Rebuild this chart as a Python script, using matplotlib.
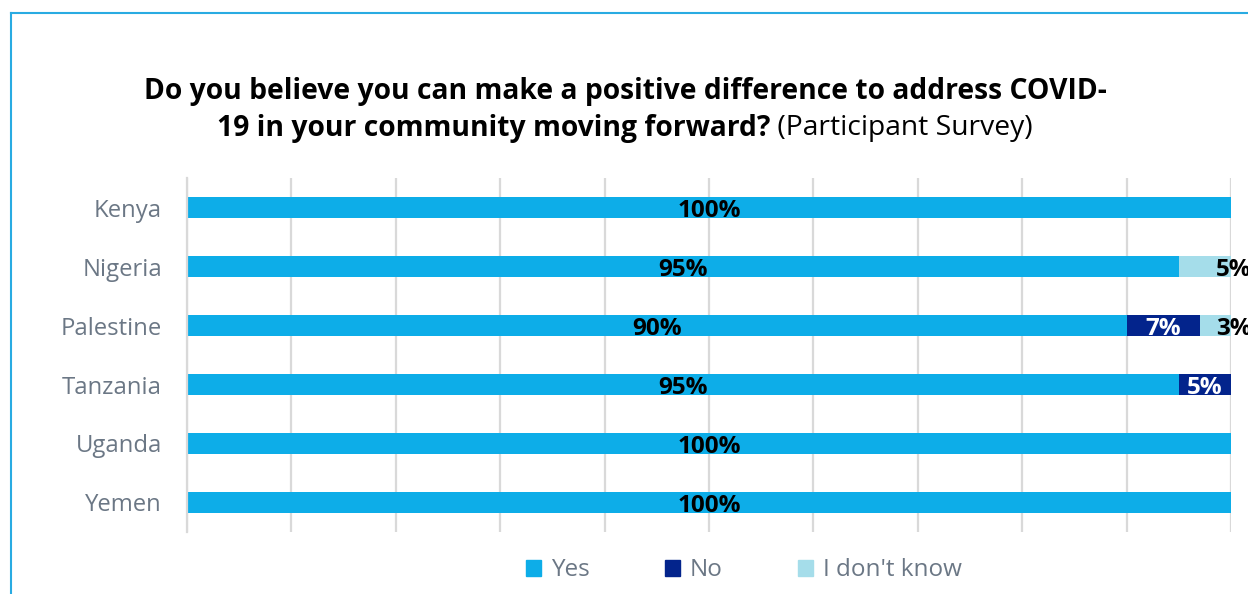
import matplotlib.pyplot as plt
from matplotlib.patches import Patch
from matplotlib.lines import Line2D
import numpy as np

plt.rcParams['font.family'] = ['Open Sans', 'DejaVu Sans']

countries = ['Kenya', 'Nigeria', 'Palestine', 'Tanzania', 'Uganda', 'Yemen']
yes_vals = [100, 95, 90, 95, 100, 100]
no_vals = [0, 0, 7, 5, 0, 0]
dk_vals = [0, 5, 3, 0, 0, 0]

c_yes = '#0DADE8'
c_no = '#03248C'
c_dk = '#A5DDEA'
grey = '#6B7785'


def main():
    fig = plt.figure(figsize=(12.48, 5.94), dpi=100)
    ax = fig.add_axes([0.1498, 0.1044, 0.8366, 0.5959])

    y = np.arange(len(countries))
    h = 0.37
    yes = np.array(yes_vals)
    no = np.array(no_vals)
    dk = np.array(dk_vals)
    ax.barh(y, yes, height=h, color=c_yes, zorder=2)
    ax.barh(y, no, left=yes, height=h, color=c_no, zorder=2)
    ax.barh(y, dk, left=yes + no, height=h, color=c_dk, zorder=2)

    # value labels
    lab_size = 17.5
    for i in range(len(countries)):
        ax.text(yes[i] / 2, i + 0.06, '{}%'.format(yes[i]), ha='center', va='center',
                fontsize=lab_size, fontweight='bold', color='black', zorder=3)
        if no[i] > 0:
            ax.text(yes[i] + no[i] / 2, i + 0.06, '{}%'.format(no[i]), ha='center', va='center',
                    fontsize=lab_size, fontweight='bold', color='white', zorder=3)
        if dk[i] > 0:
            ax.annotate('{}%'.format(dk[i]), xy=(yes[i] + no[i] + dk[i], i + 0.06),
                        xytext=(-11, 0), textcoords='offset points', ha='left', va='center',
                        fontsize=lab_size, fontweight='bold', color='black', zorder=3,
                        annotation_clip=False)

    ax.set_xlim(0, 100)
    ax.set_ylim(len(countries) - 0.5, -0.5)
    ax.set_xticks(np.arange(0, 101, 10))
    ax.set_xticklabels([])
    ax.tick_params(axis='x', length=0)
    ax.tick_params(axis='y', length=0, pad=18, labelsize=17.2, labelcolor=grey)
    ax.set_yticks(y)
    ax.set_yticklabels(countries)
    ax.grid(axis='x', color='#D9D9D9', linewidth=1.6, zorder=0)
    for s in ['top', 'right', 'bottom']:
        ax.spines[s].set_visible(False)
    ax.spines['left'].set_color('#D9D9D9')
    ax.spines['left'].set_linewidth(1.6)

    # title: first line bold, second line bold + regular
    fig.text(0.5015, 0.846, 'Do you believe you can make a positive difference to address COVID-',
             ha='center', va='center', fontsize=20.3, fontweight='bold')
    t1 = fig.text(0.5, 0.784, '19 in your community moving forward?', ha='left', va='center',
                  fontsize=20.3, fontweight='bold')
    t2 = fig.text(0.5, 0.784, ' (Participant Survey)', ha='left', va='center', fontsize=20.3)
    fig.canvas.draw()
    r = fig.canvas.get_renderer()
    w1 = t1.get_window_extent(r).width
    w2 = t2.get_window_extent(r).width
    x0 = 625 - (w1 + w2) / 2
    t1.set_x(x0 / 1248)
    t2.set_x((x0 + w1) / 1248)

    handles = [Patch(color=c_yes, label='Yes'), Patch(color=c_no, label='No'),
               Patch(color=c_dk, label="I don't know")]
    leg = fig.legend(handles=handles, loc='center', bbox_to_anchor=(0.596, 0.040), ncol=3,
                     frameon=False, fontsize=17.5, handlelength=0.62, handleheight=0.62,
                     handletextpad=0.4, columnspacing=3.1)
    for t in leg.get_texts():
        t.set_color(grey)

    # frame around the chart
    fig.add_artist(Line2D([11 / 1248, 11 / 1248], [0, 1 - 13 / 594], color='#29ABE2', linewidth=1.5))
    fig.add_artist(Line2D([11 / 1248, 1], [1 - 13 / 594, 1 - 13 / 594], color='#29ABE2', linewidth=1.5))

    fig.savefig('out.png', dpi=100)
    plt.close()


if __name__ == '__main__': main()
